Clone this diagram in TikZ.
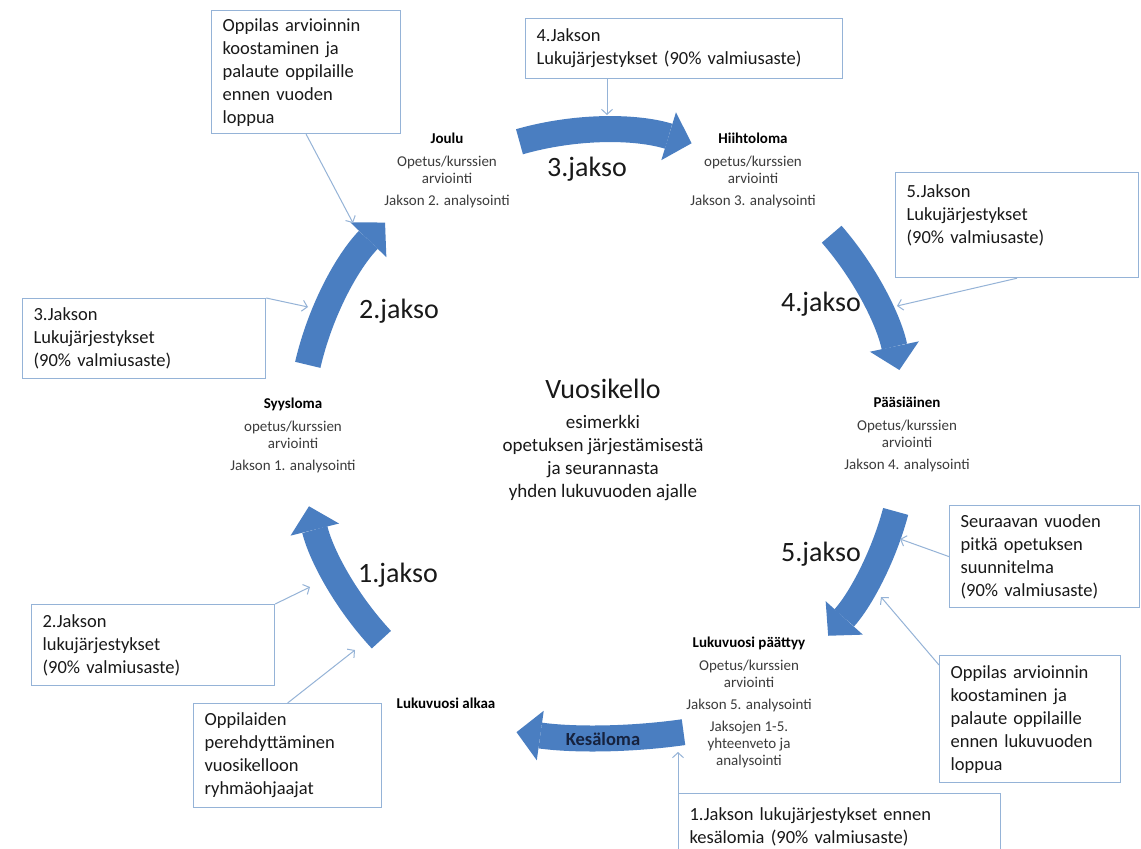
\documentclass[tikz,border=0pt]{standalone}
\usepackage{fontspec}
\setmainfont{Carlito}
\usetikzlibrary{arrows.meta,calc}
\definecolor{jaksoblue}{RGB}{74,126,193}
\definecolor{frame}{RGB}{149,179,215}
\definecolor{ink}{RGB}{25,25,25}
\definecolor{greytext}{RGB}{60,60,60}
\definecolor{navy}{RGB}{22,34,62}
\tikzset{
  note/.style={draw=frame,line width=1.2pt,fill=white,anchor=north west,align=left,
    inner xsep=11pt,inner ysep=0pt,text=ink,font=\fontsize{18.5}{23}\selectfont},
  season/.style={align=center,text=greytext,font=\fontsize{15}{17}\selectfont},
  jakso/.style={line width=26pt,draw=jaksoblue,
    -{Triangle[length=24pt,width=50pt,line width=0pt]}},
  jaksolabel/.style={text=ink,font=\fontsize{28}{32}\selectfont},
  conn/.style={draw=frame,line width=1pt,-{Straight Barb[length=5pt,width=11pt]}},
}
\newcommand{\stitle}[1]{{\fontsize{15}{17}\selectfont\bfseries\color{black}#1}}

\begin{document}
\begin{tikzpicture}[x=1pt,y=1pt]
  \fill[white] (0,0) rectangle (1141,-849);
  \useasboundingbox (0,0) rectangle (1141,-849);
  \coordinate (c) at (603,-433);
  \coordinate (cbreak) at (600,-138);

  % the five periods and the summer break
  \draw[jakso] ($(c)+(223:303)$) arc[start angle=223,end angle=194,radius=303];
  \draw[jakso] ($(c)+(167:303)$) arc[start angle=167,end angle=136,radius=303];
  \draw[jakso] ($(c)+(106:303)$) arc[start angle=106,end angle=73,radius=303];
  \draw[jakso] ($(c)+(41:303)$) arc[start angle=41,end angle=12,radius=303];
  \draw[jakso] ($(c)+(-15:303)$) arc[start angle=-15,end angle=-42,radius=303];
  \draw[jakso] ($(cbreak)+(-82:600)$) arc[start angle=-82,end angle=-98,radius=600];
  \node[text=navy,font=\fontsize{18.5}{22}\selectfont\bfseries] (kesaloma)
    at (603,-739) {Kesäloma};

  \node[jaksolabel] (j1) at (398,-575) {1.jakso};
  \node[jaksolabel] (j2) at (399,-311) {2.jakso};
  \node[jaksolabel] (j3) at (587,-169) {3.jakso};
  \node[jaksolabel] (j4) at (821,-304) {4.jakso};
  \node[jaksolabel] (j5) at (821,-554) {5.jakso};

  % holidays
  \node[season] (joulu) at (447,-170)
    {\stitle{Joulu}\\[6pt] Opetus/kurssien\\ arviointi\\[5pt] Jakson 2. analysointi};
  \node[season] (hiihto) at (753,-170)
    {\stitle{Hiihtoloma}\\[6pt] opetus/kurssien\\ arviointi\\[5pt] Jakson 3. analysointi};
  \node[season] (syys) at (293,-435)
    {\stitle{Syysloma}\\[6pt] opetus/kurssien\\ arviointi\\[5pt] Jakson 1. analysointi};
  \node[season] (paasiainen) at (907,-434)
    {\stitle{Pääsiäinen}\\[6pt] Opetus/kurssien\\ arviointi\\[5pt] Jakson 4. analysointi};
  \node[season] (alkaa) at (446,-703) {\stitle{Lukuvuosi alkaa}};
  \node[season] (paattyy) at (749,-702)
    {\stitle{Lukuvuosi päättyy}\\[6pt] Opetus/kurssien\\ arviointi\\[5pt]
     Jakson 5. analysointi\\[5pt] Jaksojen 1-5.\\ yhteenveto ja\\ analysointi};

  \node[align=center,text=ink,font=\fontsize{19}{23}\selectfont] (vuosikello) at (603,-440)
    {{\fontsize{28}{32}\selectfont Vuosikello}\\[7pt] esimerkki\\ opetuksen järjestämisestä\\
     ja seurannasta\\ yhden lukuvuoden ajalle};

  % notes
  \node[note,text width=167pt,minimum height=123pt] (evalxmas) at (211,-10)
    {Oppilas arvioinnin\\ koostaminen ja\\ palaute oppilaille\\ ennen vuoden\\ loppua};
  \node[note,text width=295pt,minimum height=60pt] (plan4) at (525,-18)
    {4.Jakson\\ Lukujärjestykset (90\% valmiusaste)};
  \node[note,text width=221pt,minimum height=105pt] (plan5) at (895,-172)
    {5.Jakson\\ Lukujärjestykset\\ (90\% valmiusaste)\\ \mbox{}};
  \node[note,text width=221pt,minimum height=80pt] (plan3) at (22,-298)
    {3.Jakson\\ Lukujärjestykset\\ (90\% valmiusaste)};
  \node[note,text width=221pt,minimum height=81pt] (plan2) at (31,-604)
    {2.Jakson\\ lukujärjestykset\\ (90\% valmiusaste)};
  \node[note,text width=166pt,minimum height=104pt] (intro) at (193,-703)
    {Oppilaiden\\ perehdyttäminen\\ vuosikelloon\\ ryhmäohjaajat};
  \node[note,text width=168pt,minimum height=102pt] (nextyear) at (949,-505)
    {Seuraavan vuoden\\ pitkä opetuksen\\ suunnitelma\\ (90\% valmiusaste)};
  \node[note,text width=159pt,minimum height=127pt] (evalend) at (939,-655)
    {Oppilas arvioinnin\\ koostaminen ja\\ palaute oppilaille\\ ennen lukuvuoden\\ loppua};
  \node[note,text width=300pt,minimum height=66pt] (plan1) at (678,-793)
    {1.Jakson lukujärjestykset ennen\\ kesälomia (90\% valmiusaste)};

  % connectors
  \coordinate (t2head) at (353,-223);
  \coordinate (t3) at (607,-115);
  \coordinate (t4) at (897,-306);
  \coordinate (t2body) at (308,-307);
  \coordinate (t1body) at (310,-587);
  \coordinate (t1tail) at (355,-650);
  \coordinate (t5a) at (900,-539);
  \coordinate (t5b) at (881,-597);
  \coordinate (tkes) at (678,-752);
  \draw[conn] (evalxmas.south) -- (t2head);
  \draw[conn] (plan4.south -| t3) -- (t3);
  \draw[conn] (plan5.south) -- (t4);
  \draw[conn] (plan3.north east) -- (t2body);
  \draw[conn] (plan2.north east) -- (t1body);
  \draw[conn] (intro.north) -- (t1tail);
  \draw[conn] (nextyear.west) -- (t5a);
  \draw[conn] ([yshift=-10pt]evalend.north west) -- (t5b);
  \draw[conn] (plan1.north west) -- (tkes);
\end{tikzpicture}
\end{document}
